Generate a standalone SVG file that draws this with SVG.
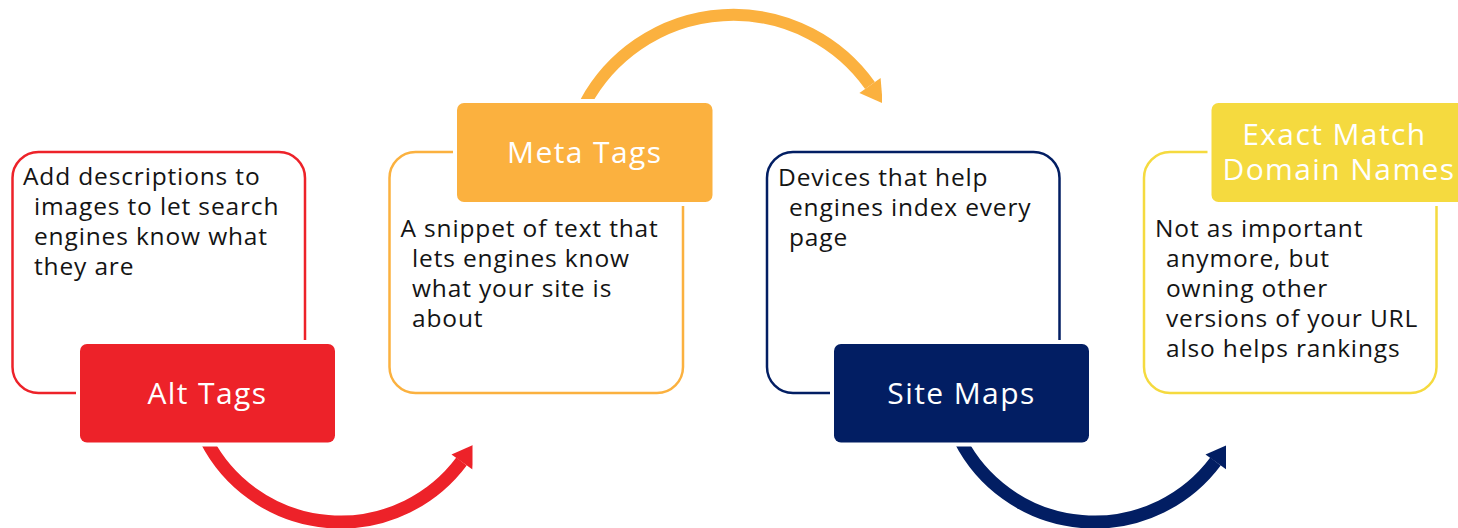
<svg xmlns="http://www.w3.org/2000/svg" width="1458" height="528" viewBox="0 0 1458 528">
  <style>
    .outline { fill: #ffffff; stroke-width: 2.5; }
    .tab { stroke: #ffffff; stroke-width: 8; paint-order: stroke; }
    .label { font-family: "Open Sans", Lato, sans-serif; font-size: 30px; letter-spacing: 1.4px; fill: #ffffff; text-anchor: middle; }
    .body { font-family: "Open Sans", Lato, sans-serif; font-size: 24.5px; letter-spacing: 0.85px; fill: #141414; }
    .arc { fill: none; }
    .red { stroke: #ED2229; }
    .orange { stroke: #FBB13F; }
    .navy { stroke: #021E63; }
    .yellow { stroke: #F5DA3F; }
  </style>
  <defs>
    <clipPath id="clip-red"><rect x="0" y="300" width="472.5" height="228"/></clipPath>
    <clipPath id="clip-orange"><rect x="500" y="0" width="382" height="120"/></clipPath>
    <clipPath id="clip-navy"><rect x="900" y="300" width="326" height="228"/></clipPath>
  </defs>

  <!-- curved connectors between the steps -->
  <g id="connectors">
    <g clip-path="url(#clip-red)">
      <path class="arc red" stroke-width="13" d="M206.2,440 A151,151 0 0 0 461.5,461.5"/>
      <polygon fill="#ED2229" points="451.5,454.4 474.9,444.2 472.5,469.6"/>
    </g>
    <g clip-path="url(#clip-orange)">
      <path class="arc orange" stroke-width="12" d="M585.3,103 A168,168 0 0 1 870,85.5"/>
      <polygon fill="#FBB13F" points="859.4,93 880.6,78 882.7,103.4"/>
    </g>
    <g clip-path="url(#clip-navy)">
      <path class="arc navy" stroke-width="13" d="M960.2,440 A151,151 0 0 0 1215.5,461.5"/>
      <polygon fill="#021E63" points="1205.5,454.4 1228.9,444.2 1226.5,469.6"/>
    </g>
  </g>

  <!-- step 1 -->
  <g id="alt-tags">
    <rect class="outline red" x="12.5" y="152" width="292.5" height="241" rx="26"/>
    <text class="body">
      <tspan x="23" y="185">Add descriptions to</tspan>
      <tspan x="34" y="215">images to let search</tspan>
      <tspan x="34" y="245">engines know what</tspan>
      <tspan x="34" y="275">they are</tspan>
    </text>
    <rect class="tab" fill="#ED2229" x="80" y="344" width="255" height="98.5" rx="7"/>
    <text class="label" x="207.5" y="403.5">Alt Tags</text>
  </g>

  <!-- step 2 -->
  <g id="meta-tags">
    <rect class="outline orange" x="389.5" y="152" width="293.5" height="241" rx="26"/>
    <text class="body">
      <tspan x="400.5" y="237">A snippet of text that</tspan>
      <tspan x="412" y="267">lets engines know</tspan>
      <tspan x="412" y="297">what your site is</tspan>
      <tspan x="412" y="327">about</tspan>
    </text>
    <rect class="tab" fill="#FBB13F" x="457" y="103" width="255.5" height="99" rx="7"/>
    <text class="label" x="584.8" y="163.3">Meta Tags</text>
  </g>

  <!-- step 3 -->
  <g id="site-maps">
    <rect class="outline navy" x="767" y="152" width="292.5" height="241" rx="26"/>
    <text class="body">
      <tspan x="778" y="186">Devices that help</tspan>
      <tspan x="789" y="216">engines index every</tspan>
      <tspan x="789" y="246">page</tspan>
    </text>
    <rect class="tab" fill="#021E63" x="834" y="344" width="255" height="98.5" rx="7"/>
    <text class="label" x="961.5" y="403.5">Site Maps</text>
  </g>

  <!-- step 4 -->
  <g id="exact-match">
    <rect class="outline yellow" x="1144" y="152" width="292.5" height="241" rx="26"/>
    <text class="body">
      <tspan x="1155" y="237">Not as important</tspan>
      <tspan x="1166" y="267">anymore, but</tspan>
      <tspan x="1166" y="297">owning other</tspan>
      <tspan x="1166" y="327">versions of your URL</tspan>
      <tspan x="1166" y="357">also helps rankings</tspan>
    </text>
    <rect class="tab" fill="#F5DA3F" x="1211.5" y="103" width="256" height="99" rx="7"/>
    <text class="label">
      <tspan x="1339" y="145">Exact Match</tspan>
      <tspan x="1339" y="180">Domain Names</tspan>
    </text>
  </g>
</svg>
